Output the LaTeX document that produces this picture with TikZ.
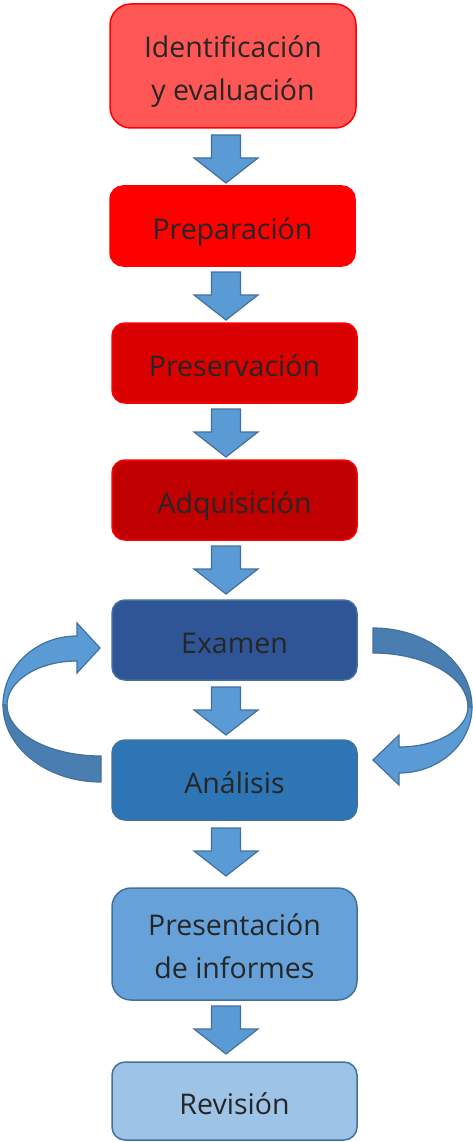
\documentclass[tikz,border=0pt]{standalone}
\usepackage{fontspec}
\setmainfont{Open Sans}
\definecolor{txt}{HTML}{262626}
\definecolor{fA}{HTML}{FF5656}
\definecolor{fB}{HTML}{FE0000}
\definecolor{fC}{HTML}{DA0000}
\definecolor{fD}{HTML}{C00000}
\definecolor{fE}{HTML}{2F5597}
\definecolor{fF}{HTML}{2E75B6}
\definecolor{fG}{HTML}{66A2D9}
\definecolor{fH}{HTML}{9DC3E6}
\definecolor{redline}{HTML}{FF0000}
\definecolor{blueline}{HTML}{41719C}
\definecolor{arrlight}{HTML}{5B9BD5}
\definecolor{arrdark}{HTML}{4A7EB0}
\newcommand\boxtext[1]{\raisebox{-4.5pt}[\height][\depth]{\begin{tabular}{@{}c@{}}#1\end{tabular}}}
\tikzset{
  box/.style={draw, rectangle, line width=1.5pt, minimum width=245pt, minimum height=80pt,
    rounded corners=13pt, text=txt, inner sep=0pt,
    font=\fontsize{28.5}{43}\selectfont},
  redbox/.style={box, draw=redline},
  bluebox/.style={box, draw=blueline},
  blockarrow/.style={fill=arrlight, draw=blueline, line width=1.2pt, line join=miter},
  darkband/.style={fill=arrdark, draw=blueline, line width=1.2pt},
  darr/.pic={\path[blockarrow] (-14.5,0) -- (14.5,0) -- (14.5,23) -- (32,23) -- (0,48) -- (-32,23) -- (-14.5,23) -- cycle;}
}
\begin{document}
\begin{tikzpicture}[x=1pt,y=-1pt]
\useasboundingbox (0,0) rectangle (473,1142);
\node[redbox, fill=fA, minimum width=246pt, minimum height=124pt, rounded corners=21pt] (b1) at (233,66) {\boxtext{Identificación\\y evaluación}};
\node[redbox, fill=fB] (b2) at (232.5,226) {\boxtext{Preparación}};
\node[redbox, fill=fC] (b3) at (234.5,363) {\boxtext{Preservación}};
\node[redbox, fill=fD] (b4) at (234.5,500) {\boxtext{Adquisición}};
\node[bluebox, fill=fE] (b5) at (234.5,640) {\boxtext{Examen}};
\node[bluebox, fill=fF] (b6) at (234.5,780) {\boxtext{Análisis}};
\node[bluebox, fill=fG, minimum height=112pt, rounded corners=19pt] (b7) at (234.5,944) {\boxtext{Presentación\\de informes}};
\node[bluebox, fill=fH, minimum height=78pt] (b8) at (234.5,1101) {\boxtext{Revisión}};
% down arrows
\pic at (226,135) {darr};
\pic at (226,272) {darr};
\pic at (226,409) {darr};
\pic at (226,546) {darr};
\pic at (226,687) {darr};
\pic at (226,828) {darr};
\pic at (226,1006) {darr};
% left curved arrow (Análisis -> Examen)
\path[darkband] (3,705) arc[start angle=180, end angle=270, x radius=98pt, y radius=77pt]
  -- (101,756) arc[start angle=270, end angle=180, x radius=94pt, y radius=51pt] -- cycle;
\path[blockarrow] (3,705) arc[start angle=180, end angle=90, x radius=74pt, y radius=69pt]
  -- (77,623) -- (100,648) -- (77,673) -- (77,661)
  arc[start angle=90, end angle=180, x radius=70pt, y radius=44pt] -- cycle;
% right curved arrow (Examen -> Análisis)
\path[darkband] (373,628) arc[start angle=90, end angle=0, x radius=99pt, y radius=79pt]
  -- (468,707) arc[start angle=0, end angle=90, x radius=95pt, y radius=54pt] -- cycle;
\path[blockarrow] (472,707) arc[start angle=0, end angle=-90, x radius=73pt, y radius=66pt]
  -- (399,785) -- (373,760) -- (399,735) -- (399,747)
  arc[start angle=-90, end angle=0, x radius=69pt, y radius=40pt] -- cycle;
\end{tikzpicture}
\end{document}
